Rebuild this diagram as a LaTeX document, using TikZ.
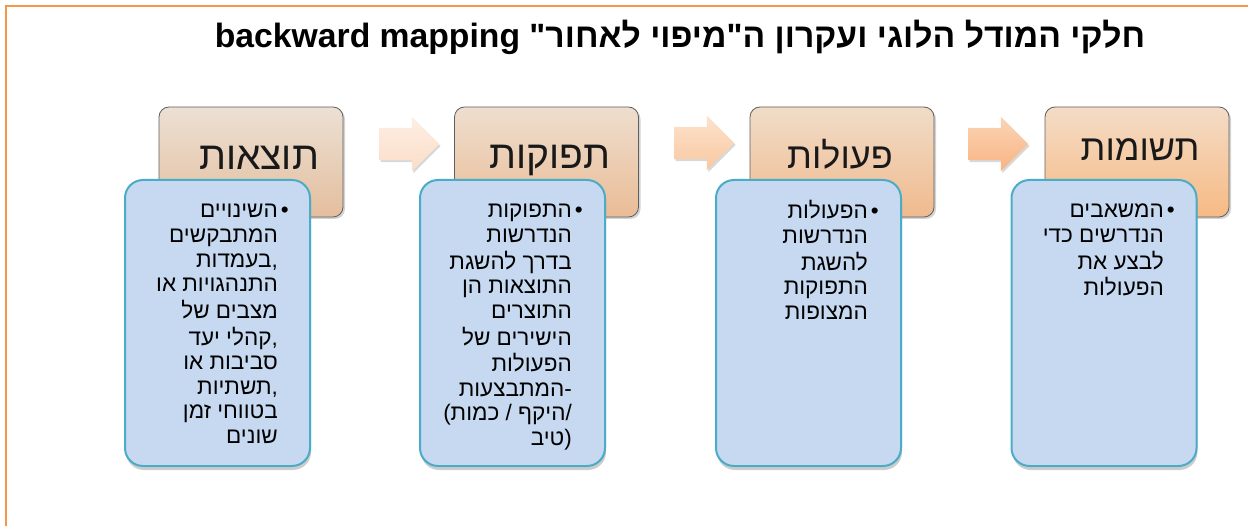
\documentclass[tikz,border=0pt]{standalone}
\usepackage{fontspec}
\setmainfont{Liberation Sans}
\newfontfamily\hebfont[Script=Hebrew]{Liberation Sans}
\TeXXeTstate=1
\usetikzlibrary{shapes.arrows, shadows}

\definecolor{frameorange}{RGB}{247,150,70}
\definecolor{boxblue}{RGB}{198,217,241}
\definecolor{boxteal}{RGB}{75,172,198}
\definecolor{headline}{RGB}{95,95,95}

\newcommand{\heb}[1]{\beginR#1\endR}
\newcommand{\hl}[1]{\strut\beginR#1\endR}
\newcommand{\pn}[1]{\hbox{\rmfamily#1}}
\newcommand{\bul}[1]{\strut\beginR#1\endR\rlap{\kern3pt•}}

\tikzset{
  headbox/.style={draw=headline, line width=0.8pt, rounded corners=10pt,
    minimum width=184pt, minimum height=110pt, inner sep=0pt,
    drop shadow={shadow xshift=2pt, shadow yshift=-2pt, opacity=0.35}},
  headtext/.style={anchor=base, inner sep=0pt, text=black!90,
    font=\fontsize{39}{46}\selectfont\hebfont},
  bluebox/.style={draw=boxteal, fill=boxblue, line width=2pt, rounded corners=18pt,
    minimum width=185pt, minimum height=286pt, inner sep=0pt,
    drop shadow={shadow xshift=1pt, shadow yshift=-4pt, opacity=0.4}},
  bodytext/.style={anchor=north east, inner sep=0pt, align=right,
    font=\fontsize{22.5}{24.6}\selectfont\hebfont},
  blockarrow/.style={single arrow, draw=none, inner xsep=0pt, inner ysep=16pt,
    minimum height=60pt, single arrow head extend=11pt,
    drop shadow={shadow xshift=1.5pt, shadow yshift=-2pt, opacity=0.3}}
}

\begin{document}
\begin{tikzpicture}[x=1pt, y=-1pt]
    \useasboundingbox (0,0) rectangle (1248,526);
    \draw[frameorange, line width=2pt] (6,526) -- (6,6) -- (1248,6);

    % title
    \node[anchor=base, inner sep=0pt, font=\fontsize{33.7}{40}\selectfont\hebfont\bfseries]
        at (680,48) (title) {\heb{חלקי המודל הלוגי ועקרון ה"מיפוי לאחור" \beginL backward mapping\endL}};

    % header boxes
    \node[headbox, top color={rgb,255:red,236;green,224;blue,212}, bottom color={rgb,255:red,228;green,190;blue,158}] at (251,162) (h1) {};
    \node[headbox, top color={rgb,255:red,238;green,222;blue,206}, bottom color={rgb,255:red,234;green,188;blue,150}] at (546.5,162) (h2) {};
    \node[headbox, top color={rgb,255:red,240;green,220;blue,200}, bottom color={rgb,255:red,240;green,186;blue,142}] at (842,162) (h3) {};
    \node[headbox, top color={rgb,255:red,244;green,220;blue,198}, bottom color={rgb,255:red,246;green,186;blue,132}] at (1137,162) (h4) {};

    \node[headtext] at (259,170) (t1) {\heb{תוצאות}};
    \node[headtext] at (550,169) (t2) {\heb{תפוקות}};
    \node[headtext, font=\fontsize{36}{44}\selectfont\hebfont] at (840,169) (t3) {\heb{פעולות}};
    \node[headtext, font=\fontsize{36}{44}\selectfont\hebfont] at (1140,161) (t4) {\heb{תשומות}};

    % arrows
    \node[blockarrow, top color={rgb,255:red,253;green,238;blue,228}, bottom color={rgb,255:red,251;green,222;blue,200}] at (401,144) (a1) {};
    \node[blockarrow, top color={rgb,255:red,253;green,226;blue,204}, bottom color={rgb,255:red,249;green,200;blue,160}] at (696,143) (a2) {};
    \node[blockarrow, top color={rgb,255:red,252;green,212;blue,182}, bottom color={rgb,255:red,247;green,180;blue,130}] at (990,144) (a3) {};

    % blue boxes
    \node[bluebox] at (217.5,323) (b1) {};
    \node[bluebox] at (512.5,323) (b2) {};
    \node[bluebox] at (808.5,323) (b3) {};
    \node[bluebox] at (1104,323) (b4) {};

    \node[bodytext] at (278,200.5) (x1) {\bul{השינויים}\\ \hl{המתבקשים}\\ \hl{בעמדות}\pn{,}\\
        \hl{התנהגויות או}\\ \hl{מצבים של}\\ \hl{קהלי יעד}\pn{,}\\ \hl{סביבות או}\\
        \hl{תשתיות}\pn{,}\\ \hl{בטווחי זמן}\\ \hl{שונים}};
    \node[bodytext] at (572,200.5) (x2) {\bul{התפוקות}\\ \hl{הנדרשות}\\ \hl{בדרך להשגת}\\
        \hl{התוצאות הן}\\ \hl{התוצרים}\\ \hl{הישירים של}\\ \hl{הפעולות}\\
        \hl{המתבצעות}\pn{-}\\ \strut\pn{(}\heb{היקף / כמות}\pn{/}\\ \hl{טיב}\pn{)}};
    \node[bodytext] at (868,200.5) (x3) {\bul{הפעולות}\\ \hl{הנדרשות}\\ \hl{להשגת}\\
        \hl{התפוקות}\\ \hl{המצופות}};
    \node[bodytext] at (1164,200.5) (x4) {\bul{המשאבים}\\ \hl{הנדרשים כדי}\\ \hl{לבצע את}\\
        \hl{הפעולות}};
\end{tikzpicture}
\end{document}
